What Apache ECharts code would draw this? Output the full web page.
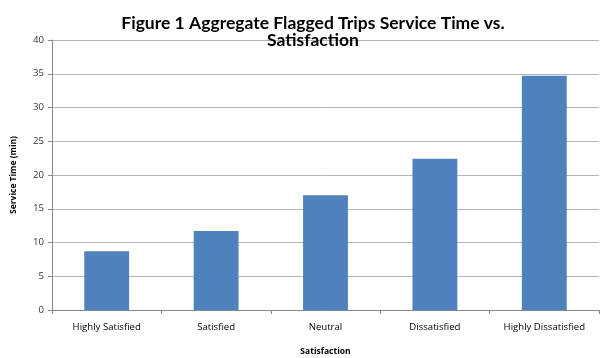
<!DOCTYPE html>
<html>
<head>
<meta charset="utf-8">
<script src="https://cdn.jsdelivr.net/npm/echarts@6/dist/echarts.min.js"></script>
<style>html,body{margin:0;padding:0;background:#fff}#c{width:600px;height:358px}</style>
</head>
<body>
<div id="c"></div>
<script>
const categories = ["Highly Satisfied", "Satisfied", "Neutral", "Dissatisfied", "Highly Dissatisfied"];
const serviceTime = [8.7, 11.7, 17.0, 22.4, 34.7];
const yTicks = [0, 5, 10, 15, 20, 25, 30, 35, 40];

const chart = echarts.init(document.getElementById('c'));
chart.setOption({
  animation: false,
  backgroundColor: '#fff',
  title: {
    text: 'Figure 1 Aggregate Flagged Trips Service Time vs.\nSatisfaction',
    left: 308, top: 10, textAlign: 'center',
    textStyle: { fontFamily: 'Lato', fontWeight: 'bold', fontSize: 17.5, lineHeight: 17, color: '#000' }
  },
  grid: { left: 52, right: 1, top: 40, bottom: 48, outerBoundsMode: 'none', containLabel: false },
  xAxis: {
    type: 'category', data: categories,
    name: 'Satisfaction', nameLocation: 'middle', nameGap: 37,
    nameTextStyle: { fontFamily: 'Open Sans', fontWeight: 'bold', fontSize: 8.5, color: '#000' },
    axisLine: { lineStyle: { color: '#888', width: 1 } },
    axisTick: { show: true, length: 4, lineStyle: { color: '#888' } },
    axisLabel: { fontFamily: 'Open Sans', fontSize: 9.6, color: '#000', margin: 12 }
  },
  yAxis: {
    type: 'value', min: yTicks[0], max: yTicks[yTicks.length - 1], interval: 5,
    name: 'Service Time (min)', nameLocation: 'middle', nameGap: 34,
    nameTextStyle: { fontFamily: 'Open Sans', fontWeight: 'bold', fontSize: 8.5, color: '#000' },
    axisLine: { show: true, lineStyle: { color: '#888', width: 1 } },
    axisTick: { show: true, length: 4, lineStyle: { color: '#888' } },
    axisLabel: { fontFamily: 'Open Sans', fontSize: 9.6, color: '#333', margin: 8 },
    splitLine: { lineStyle: { color: '#b4b4b4', width: 1 } }
  },
  series: [{
    type: 'bar', data: serviceTime, barWidth: '41%',
    itemStyle: { color: '#4f81bd' }
  }]
});
</script>
</body>
</html>
